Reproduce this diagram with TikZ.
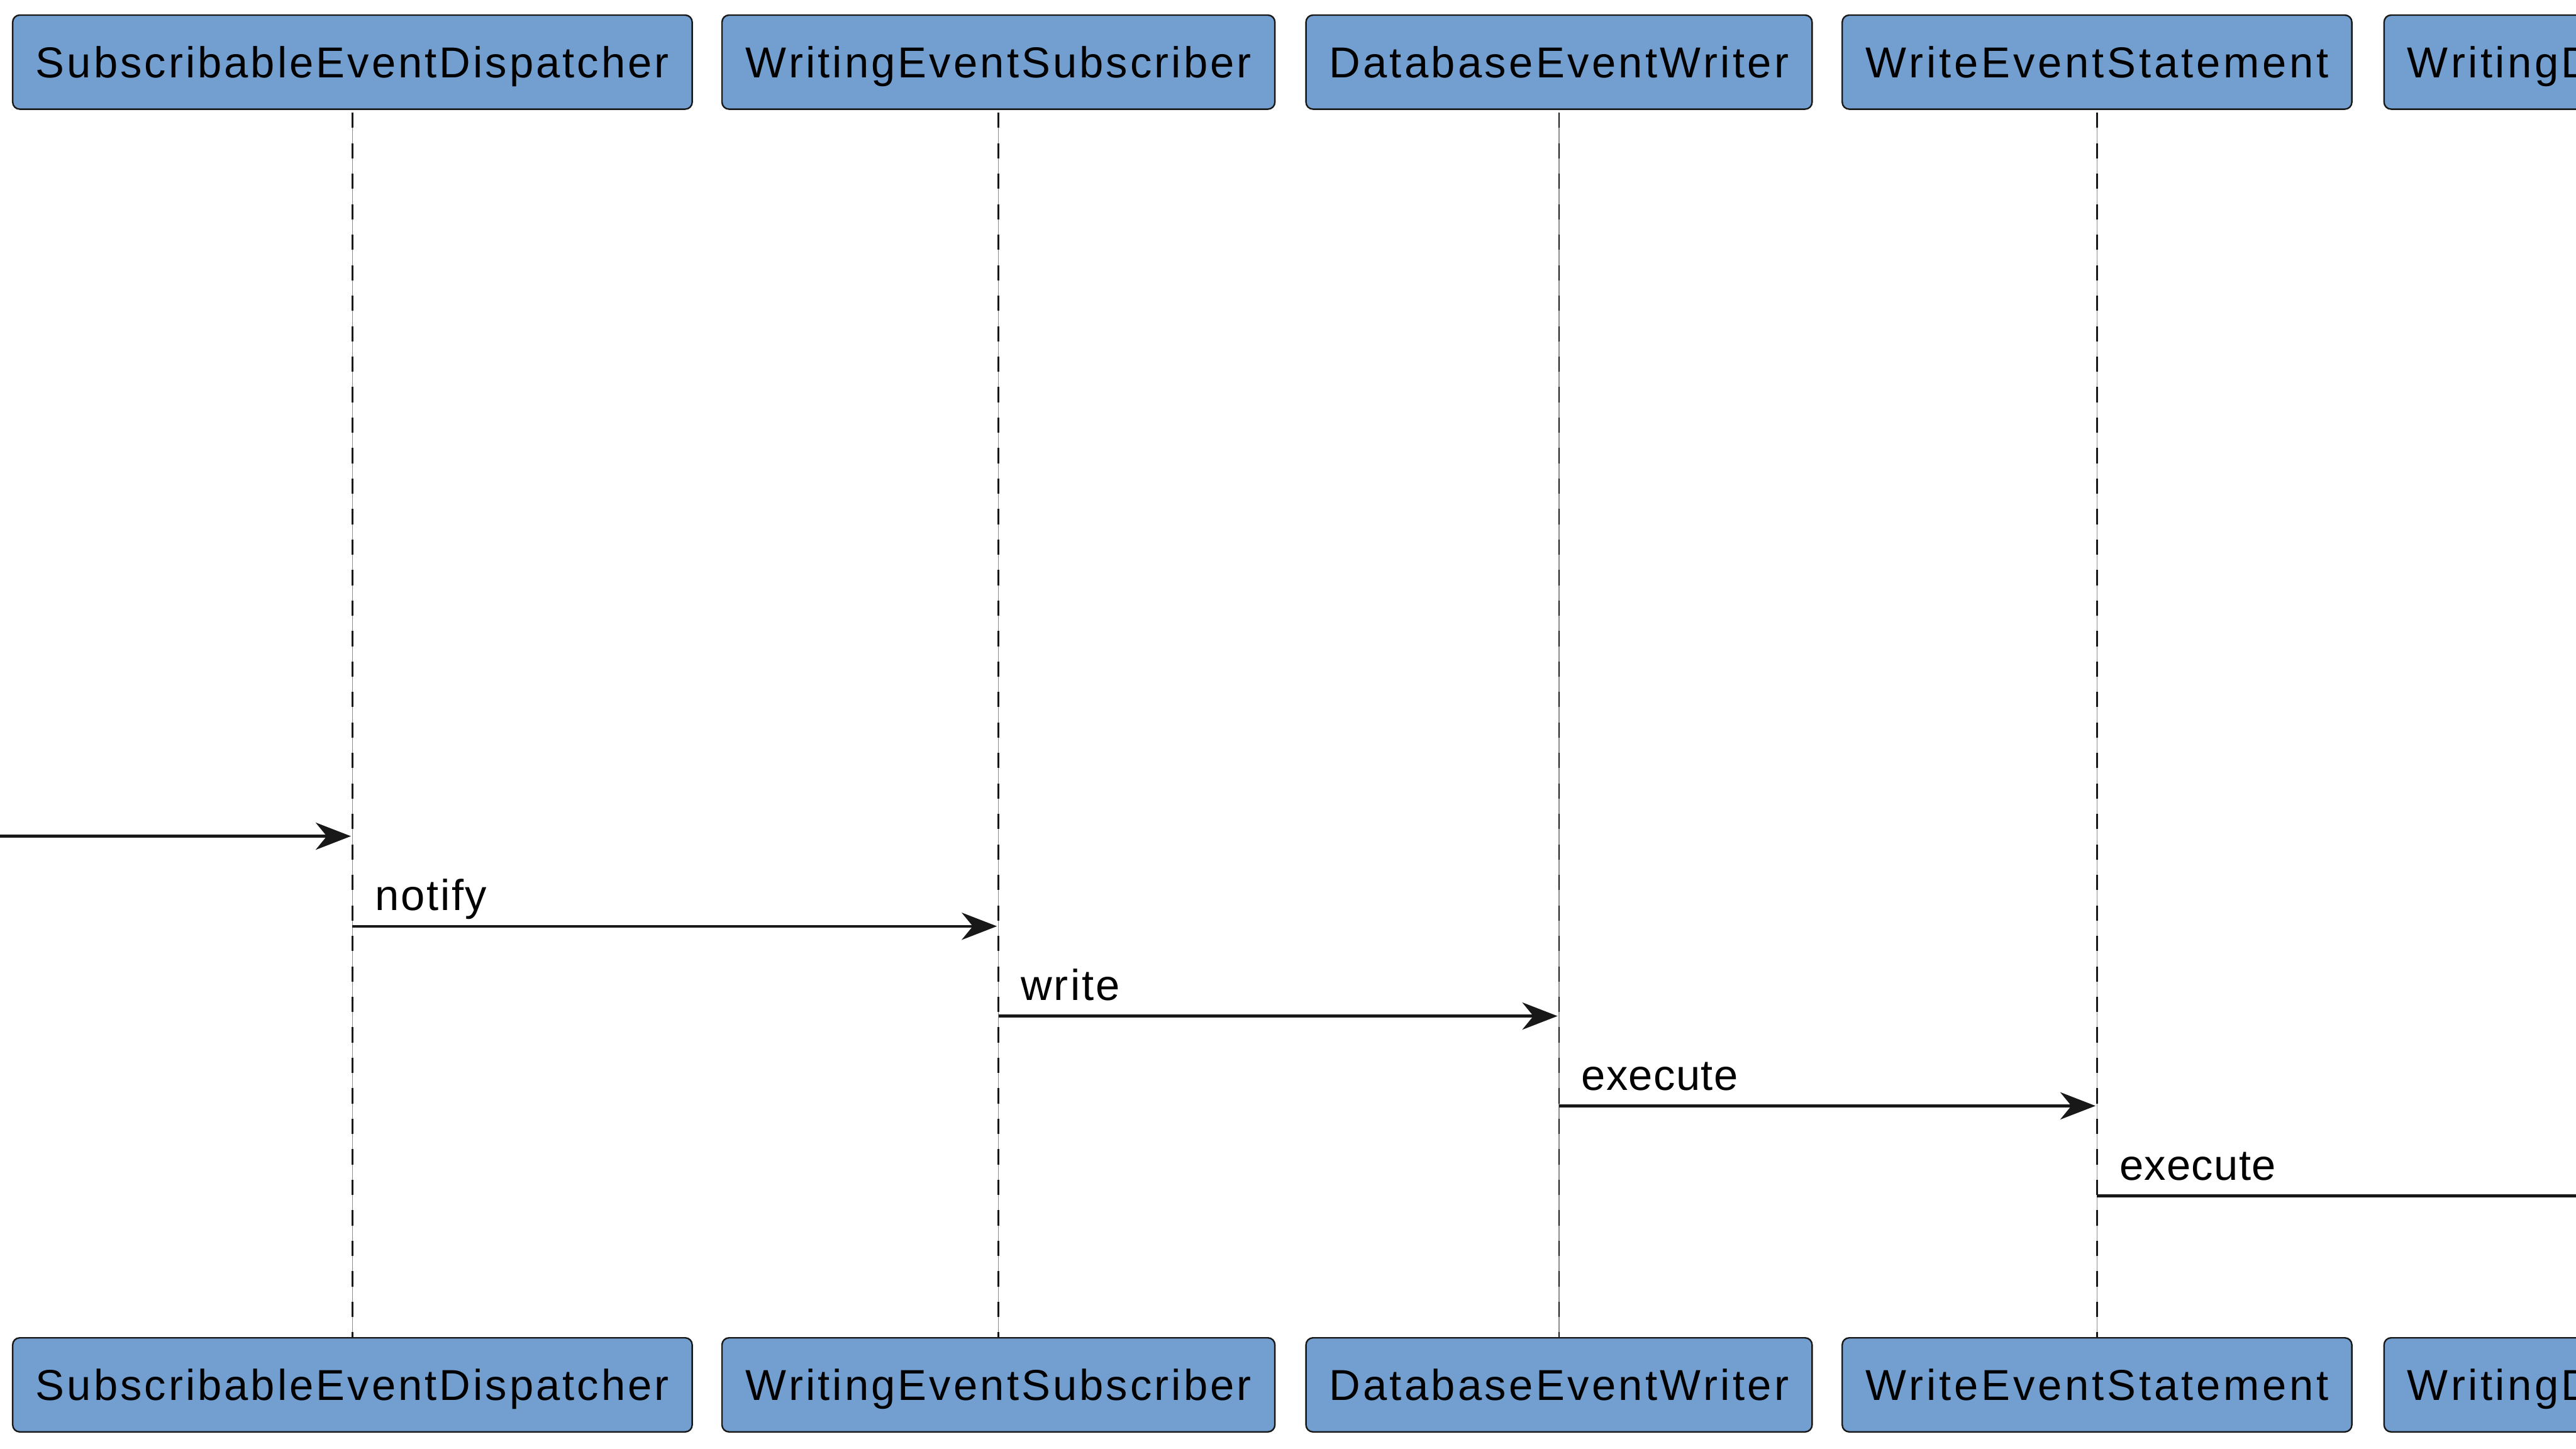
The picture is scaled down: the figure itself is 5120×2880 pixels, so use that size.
\documentclass[tikz,border=0pt]{standalone}
\usepackage{fontspec}
\setmainfont{Liberation Sans}
\newfontfamily\glyphfont{Liberation Sans}
\newfontfamily\metricfont{DejaVu Sans}
\usetikzlibrary{arrows.meta}

\definecolor{partfill}{HTML}{729FCF}
\definecolor{ink}{HTML}{181818}

% Letter-spaced words: glyphs in one face, spread to the width the word has in another.
\newdimen\sptarget
\newdimen\spgap
\newcount\spn
\makeatletter
\def\sp@count#1{\ifx#1\relax\else\advance\spn by 1 \expandafter\sp@count\fi}
\def\sp@put#1{\ifx#1\relax\else#1\kern\spgap\expandafter\sp@put\fi}
% #1 reference size, #2 glyph size, #3 word
\newcommand\spreadword[3]{%
  \begingroup
  \setbox0\hbox{\metricfont\fontsize{#1}{#1}\selectfont #3}\sptarget=\wd0
  \spgap=0pt
  \setbox0\hbox{\glyphfont\fontsize{#2}{#2}\selectfont\sp@put#3\relax\unkern}%
  \spn=0 \sp@count#3\relax \advance\spn by -1
  \spgap=\sptarget \advance\spgap by -\wd0 \divide\spgap by \spn
  \hbox{\glyphfont\fontsize{#2}{#2}\selectfont\sp@put#3\relax\unkern}%
  \endgroup}
% #1 gap, #2 glyph size, #3 word
\newcommand\fixedspread[3]{%
  \begingroup\spgap=#1\relax
  \hbox{\glyphfont\fontsize{#2}{#2}\selectfont\sp@put#3\relax\unkern}%
  \endgroup}
\makeatother

\newcommand\actorlabel[1]{\spreadword{8.55pt}{8.6pt}{#1}}
\newcommand\msglabel[1]{\spreadword{7.85pt}{8.6pt}{#1}}

\tikzset{
  part/.style={draw=ink, fill=partfill, line width=0.3pt, rounded corners=1.4pt,
    minimum height=18.7pt, inner xsep=4.6pt, inner ysep=0pt,
    text height=6.16pt, text depth=0pt},
  lifebase/.style={draw=black!45, line width=0.15pt, shorten <=0.55pt},
  lifedash/.style={draw=ink, line width=0.33pt, dash pattern=on 3.03pt off 3.03pt,
    shorten <=0.55pt},
  msg/.style={draw=ink, line width=0.57pt,
    -{Stealth[length=7pt, width=5.4pt, inset=2.2pt]}, shorten >=0.3pt},
  lbl/.style={inner sep=0pt, anchor=base west, xshift=4.25pt, yshift=3.1pt},
}

\begin{document}
\begin{tikzpicture}[x=0.1pt, y=-0.1pt]
  \path[use as bounding box] (0,0) rectangle (5120,2880);
  \clip (0,0) rectangle (5120,2880);

  % participants, top row
  \node[part, minimum width=134.9pt] (t1) at (700.5,123.5) {\actorlabel{SubscribableEventDispatcher}};
  \node[part, minimum width=109.9pt] (t2) at (1984.5,123.5) {\actorlabel{WritingEventSubscriber}};
  \node[part, minimum width=100.6pt] (t3) at (3098.7,123.5) {\actorlabel{DatabaseEventWriter}};
  \node[part, minimum width=101.3pt] (t4) at (4168,123.5) {\actorlabel{WriteEventStatement}};
  \node[part, anchor=west] (t5) at (4737,123.5) {\fixedspread{0.56pt}{8.6pt}{WritingD}\hspace*{60pt}};

  % participants, bottom row
  \node[part, minimum width=134.9pt] (b1) at (700.5,2752.5) {\actorlabel{SubscribableEventDispatcher}};
  \node[part, minimum width=109.9pt] (b2) at (1984.5,2752.5) {\actorlabel{WritingEventSubscriber}};
  \node[part, minimum width=100.6pt] (b3) at (3098.7,2752.5) {\actorlabel{DatabaseEventWriter}};
  \node[part, minimum width=101.3pt] (b4) at (4168,2752.5) {\actorlabel{WriteEventStatement}};
  \node[part, anchor=west] (b5) at (4737,2752.5) {\fixedspread{0.56pt}{8.6pt}{WritingD}\hspace*{60pt}};

  % lifelines
  \foreach \i in {1,...,4} {
    \draw[lifebase] (t\i) -- (b\i);
    \draw[lifedash] (t\i) -- (b\i);
  }

  % message rows
  \coordinate (r1) at (0,1662);
  \coordinate (r2) at (0,1841);
  \coordinate (r3) at (0,2019.5);
  \coordinate (r4) at (0,2198);
  \coordinate (r5) at (0,2377);
  \coordinate (entry) at (-40,1662);
  \coordinate (exit) at (5400,2377);

  % messages
  \draw[msg] (entry) -- (t1 |- r1);

  \draw[msg] (t1 |- r2) -- (t2 |- r2);
  \node[lbl] (m2) at (t1 |- r2) {\msglabel{notify}};

  \draw[msg] (t2 |- r3) -- (t3 |- r3);
  \node[lbl] (m3) at (t2 |- r3) {\msglabel{write}};

  \draw[msg] (t3 |- r4) -- (t4 |- r4);
  \node[lbl] (m4) at (t3 |- r4) {\msglabel{execute}};

  \draw[msg] (t4 |- r5) -- (exit);
  \node[lbl] (m5) at (t4 |- r5) {\msglabel{execute}};
\end{tikzpicture}
\end{document}
